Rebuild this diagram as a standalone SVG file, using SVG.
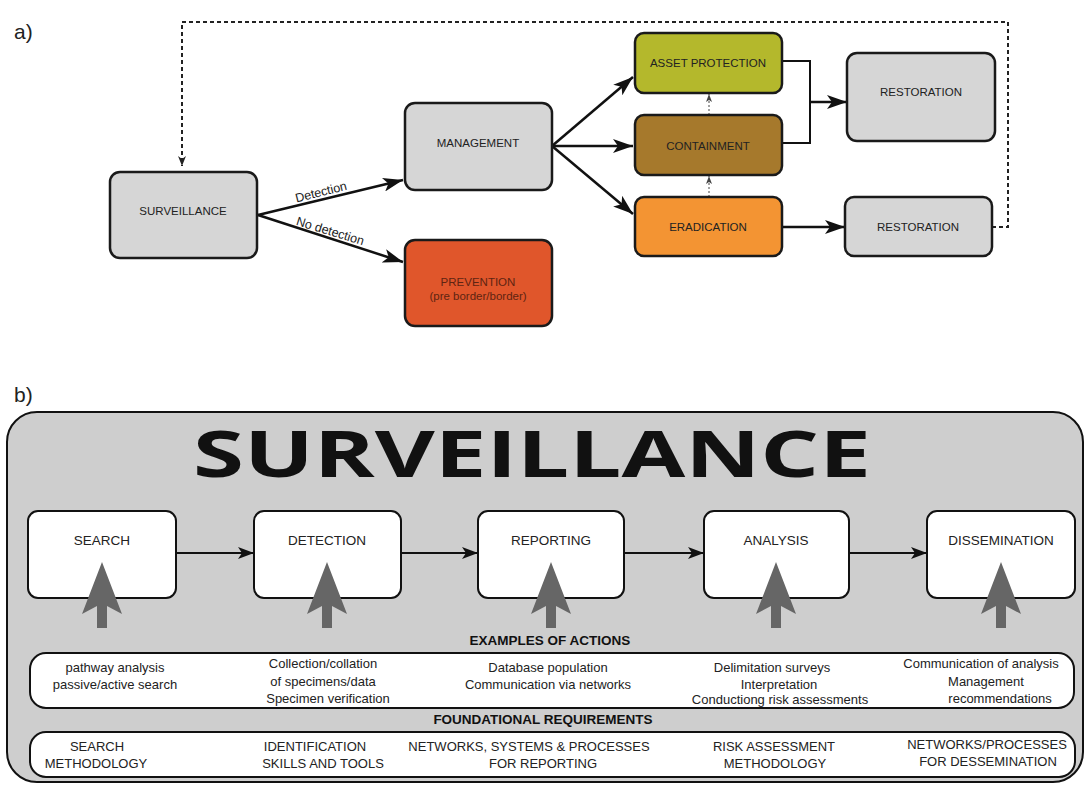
<svg xmlns="http://www.w3.org/2000/svg" width="1086" height="788" viewBox="0 0 1086 788">
<defs>
<style>
.lbl{font-family:"Liberation Sans",Arial,sans-serif;fill:#222;}
.a-node{fill:#d6d6d6;stroke:#1a1a1a;stroke-width:2.5;}
.a-txt{font-size:11.5px;text-anchor:middle;}
.b-node{fill:#ffffff;stroke:#111;stroke-width:2;}
.b-txt{font-size:13.5px;text-anchor:middle;}
.ex{font-size:13px;text-anchor:middle;}
.hdr{font-size:13.5px;font-weight:bold;text-anchor:middle;fill:#111;}
.conn{fill:none;stroke:#111;stroke-width:2.5;}
.connb{fill:none;stroke:#111;stroke-width:2;}
.dash{fill:none;stroke:#222;stroke-width:2;stroke-dasharray:4 3;}
.dot{fill:none;stroke:#444;stroke-width:1;stroke-dasharray:2 2;}
.up{fill:#666;}
</style>
<marker id="ah" viewBox="0 0 20 14" refX="20" refY="7" markerWidth="20" markerHeight="14" markerUnits="userSpaceOnUse" orient="auto"><path d="M0,0 L20,7 L0,14 L5,7 Z" fill="#111"/></marker>
<marker id="ahb" viewBox="0 0 16 12" refX="16" refY="6" markerWidth="16" markerHeight="12" markerUnits="userSpaceOnUse" orient="auto"><path d="M0,0 L16,6 L0,12 L4,6 Z" fill="#111"/></marker>
<marker id="ahs" viewBox="0 0 10 8" refX="10" refY="4" markerWidth="10" markerHeight="8" markerUnits="userSpaceOnUse" orient="auto"><path d="M0,0 L10,4 L0,8 L3,4 Z" fill="#222"/></marker>
<marker id="aht" viewBox="0 0 8 6" refX="8" refY="3" markerWidth="8" markerHeight="6" markerUnits="userSpaceOnUse" orient="auto"><path d="M0,0 L8,3 L0,6 L2,3 Z" fill="#444"/></marker>
</defs>
<rect width="1086" height="788" fill="#ffffff"/>

<text class="lbl" x="14" y="39" font-size="21">a)</text>
<text class="lbl" x="14" y="402" font-size="21">b)</text>

<g id="connectors-a">
<path class="dash" d="M992,227 H1008 V22 H182 V166" marker-end="url(#ahs)"/>
<line class="conn" x1="258" y1="215" x2="403" y2="180" marker-end="url(#ah)"/>
<line class="conn" x1="258" y1="215" x2="403" y2="262" marker-end="url(#ah)"/>
<line class="conn" x1="552" y1="146" x2="633" y2="77" marker-end="url(#ah)"/>
<line class="conn" x1="552" y1="146" x2="633" y2="146" marker-end="url(#ah)"/>
<line class="conn" x1="552" y1="146" x2="633" y2="214" marker-end="url(#ah)"/>
<path class="connb" d="M782,61 H810 V143 H782"/>
<line class="conn" x1="810" y1="102" x2="847" y2="102" marker-end="url(#ah)"/>
<line class="conn" x1="782" y1="227" x2="845" y2="227" marker-end="url(#ah)"/>
<line class="dot" x1="709" y1="115" x2="709" y2="94" marker-end="url(#aht)"/>
<line class="dot" x1="709" y1="197" x2="709" y2="176" marker-end="url(#aht)"/>
<text class="lbl" x="322" y="196" font-size="12.5" text-anchor="middle" transform="rotate(-14 322 196)">Detection</text>
<text class="lbl" x="329" y="235" font-size="12.5" text-anchor="middle" transform="rotate(17 329 235)">No detection</text>
</g>

<g id="n-surveillance"><rect class="a-node" x="110" y="172" width="147" height="86" rx="10"/><text class="lbl a-txt" x="183" y="215">SURVEILLANCE</text></g>
<g id="n-management"><rect class="a-node" x="405" y="103" width="147" height="87" rx="10"/><text class="lbl a-txt" x="478" y="147">MANAGEMENT</text></g>
<g id="n-prevention"><rect x="405" y="240" width="147" height="86" rx="10" fill="#e0562b" stroke="#1a1a1a" stroke-width="2.5"/><text class="lbl a-txt" x="478" y="286" fill="#5e2412" style="fill:#5e2412">PREVENTION</text><text class="lbl a-txt" x="478" y="300" style="fill:#5e2412">(pre border/border)</text></g>
<g id="n-asset"><rect x="635" y="33" width="147" height="60" rx="9" fill="#b4b82c" stroke="#1a1a1a" stroke-width="2.5"/><text class="lbl a-txt" x="708" y="67">ASSET PROTECTION</text></g>
<g id="n-containment"><rect x="635" y="115" width="147" height="60" rx="9" fill="#a6792c" stroke="#1a1a1a" stroke-width="2.5"/><text class="lbl a-txt" x="708" y="150">CONTAINMENT</text></g>
<g id="n-eradication"><rect x="635" y="197" width="147" height="59" rx="9" fill="#f39433" stroke="#1a1a1a" stroke-width="2.5"/><text class="lbl a-txt" x="708" y="231">ERADICATION</text></g>
<g id="n-restoration1"><rect class="a-node" x="847" y="53" width="148" height="88" rx="10"/><text class="lbl a-txt" x="921" y="96">RESTORATION</text></g>
<g id="n-restoration2"><rect class="a-node" x="845" y="197" width="147" height="59" rx="9"/><text class="lbl a-txt" x="918" y="231">RESTORATION</text></g>

<g id="panel-b">
<rect x="7" y="412" width="1076" height="370" rx="30" fill="#cecece" stroke="#111" stroke-width="2"/>
<text x="532" y="477" font-family="'Open Sans','Liberation Sans',sans-serif" font-weight="bold" font-size="65" text-anchor="middle" fill="#111" textLength="678" lengthAdjust="spacingAndGlyphs">SURVEILLANCE</text>
</g>

<g id="connectors-b">
<line class="connb" x1="176" y1="553" x2="254" y2="553" marker-end="url(#ahb)"/>
<line class="connb" x1="401" y1="553" x2="478" y2="553" marker-end="url(#ahb)"/>
<line class="connb" x1="624" y1="553" x2="704" y2="553" marker-end="url(#ahb)"/>
<line class="connb" x1="849" y1="553" x2="927" y2="553" marker-end="url(#ahb)"/>
</g>

<g id="n-search"><rect class="b-node" x="28" y="511" width="148" height="87" rx="10"/><text class="lbl b-txt" x="102" y="545">SEARCH</text></g>
<g id="n-detection"><rect class="b-node" x="254" y="511" width="147" height="87" rx="10"/><text class="lbl b-txt" x="327" y="545">DETECTION</text></g>
<g id="n-reporting"><rect class="b-node" x="478" y="511" width="146" height="87" rx="10"/><text class="lbl b-txt" x="551" y="545">REPORTING</text></g>
<g id="n-analysis"><rect class="b-node" x="704" y="511" width="145" height="87" rx="10"/><text class="lbl b-txt" x="776" y="545">ANALYSIS</text></g>
<g id="n-dissemination"><rect class="b-node" x="927" y="511" width="148" height="87" rx="10"/><text class="lbl b-txt" x="1001" y="545">DISSEMINATION</text></g>

<g id="up-arrows">
<path class="up" d="M102,562 L122,614 L107,606 L107,628 L97,628 L97,606 L82,614 Z"/>
<path class="up" d="M327,562 L347,614 L332,606 L332,628 L322,628 L322,606 L307,614 Z"/>
<path class="up" d="M551,562 L571,614 L556,606 L556,628 L546,628 L546,606 L531,614 Z"/>
<path class="up" d="M776,562 L796,614 L781,606 L781,628 L771,628 L771,606 L756,614 Z"/>
<path class="up" d="M1001,562 L1021,614 L1006,606 L1006,628 L996,628 L996,606 L981,614 Z"/>
</g>

<g id="examples">
<text class="lbl hdr" x="550" y="645">EXAMPLES OF ACTIONS</text>
<rect x="30" y="653" width="1044" height="55" rx="16" fill="#fff" stroke="#111" stroke-width="2"/>
<text class="lbl ex" x="115" y="672">pathway analysis</text>
<text class="lbl ex" x="115" y="689">passive/active search</text>
<text class="lbl ex" x="323" y="668">Collection/collation</text>
<text class="lbl ex" x="323" y="686">of specimens/data</text>
<text class="lbl ex" x="328" y="703">Specimen verification</text>
<text class="lbl ex" x="548" y="672">Database population</text>
<text class="lbl ex" x="548" y="689">Communication via networks</text>
<text class="lbl ex" x="772" y="672">Delimitation surveys</text>
<text class="lbl ex" x="779" y="689">Interpretation</text>
<text class="lbl ex" x="780" y="704">Conductiong risk assessments</text>
<text class="lbl ex" x="981" y="668">Communication of analysis</text>
<text class="lbl ex" x="986" y="686">Management</text>
<text class="lbl ex" x="1000" y="703">recommendations</text>
</g>

<g id="foundational">
<text class="lbl hdr" x="543" y="724">FOUNDATIONAL REQUIREMENTS</text>
<rect x="30" y="732" width="1045" height="45" rx="16" fill="#fff" stroke="#111" stroke-width="2"/>
<text class="lbl ex" x="97" y="751">SEARCH</text>
<text class="lbl ex" x="96" y="768">METHODOLOGY</text>
<text class="lbl ex" x="315" y="751">IDENTIFICATION</text>
<text class="lbl ex" x="323" y="768">SKILLS AND TOOLS</text>
<text class="lbl ex" x="529" y="751">NETWORKS,  SYSTEMS &amp; PROCESSES</text>
<text class="lbl ex" x="543" y="768">FOR REPORTING</text>
<text class="lbl ex" x="774" y="751">RISK ASSESSMENT</text>
<text class="lbl ex" x="775" y="768">METHODOLOGY</text>
<text class="lbl ex" x="987" y="749">NETWORKS/PROCESSES</text>
<text class="lbl ex" x="988" y="766">FOR DESSEMINATION</text>
</g>
</svg>
